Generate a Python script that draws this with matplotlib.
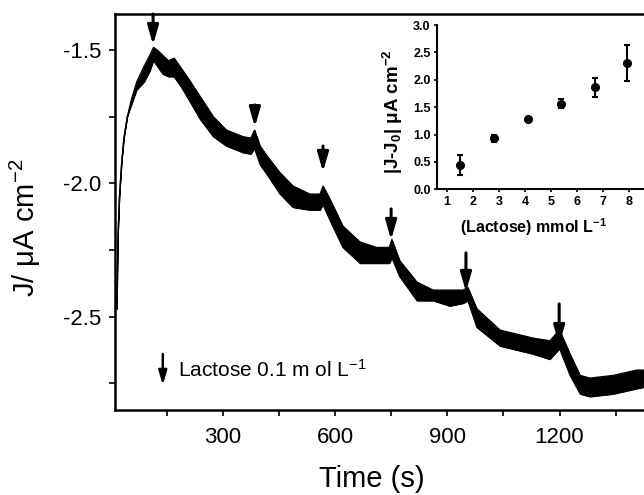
import matplotlib
matplotlib.use("Agg")
import matplotlib.pyplot as plt
from matplotlib.ticker import MultipleLocator

plt.rcParams['font.family'] = ['Liberation Sans', 'DejaVu Sans']
plt.rcParams['axes.unicode_minus'] = False
plt.rcParams['mathtext.fontset'] = 'custom'
plt.rcParams['mathtext.rm'] = 'Liberation Sans'
plt.rcParams['mathtext.bf'] = 'Liberation Sans:bold'
plt.rcParams['mathtext.default'] = 'regular'

# ---- main chronoamperogram (envelope of the oscillating trace)
time_s = [17, 20, 24, 30, 36, 45, 55, 70, 90, 105, 115, 125, 140, 155, 170, 190,
          205, 240, 275, 310, 355, 375, 385, 400, 420, 453, 488, 533, 560, 568,
          587, 621, 667, 711, 745, 752, 773, 819, 862, 907, 942, 955, 979, 1041,
          1129, 1174, 1200, 1228, 1255, 1281, 1343, 1406, 1440]
j_upper = [-2.47, -2.20, -2.05, -1.92, -1.83, -1.75, -1.69, -1.62, -1.56, -1.52,
           -1.49, -1.50, -1.52, -1.54, -1.53, -1.57, -1.60, -1.675, -1.75, -1.80,
           -1.825, -1.83, -1.80, -1.86, -1.90, -1.96, -2.01, -2.04, -2.04, -2.01,
           -2.06, -2.16, -2.22, -2.24, -2.24, -2.21, -2.29, -2.37, -2.40, -2.40,
           -2.40, -2.39, -2.47, -2.55, -2.58, -2.59, -2.55, -2.64, -2.72, -2.73,
           -2.72, -2.70, -2.70]
j_lower = [-2.47, -2.20, -2.05, -1.92, -1.83, -1.75, -1.71, -1.65, -1.62, -1.58,
           -1.54, -1.56, -1.59, -1.60, -1.60, -1.64, -1.675, -1.76, -1.825, -1.86,
           -1.885, -1.89, -1.87, -1.93, -1.97, -2.04, -2.09, -2.10, -2.10, -2.08,
           -2.14, -2.24, -2.30, -2.30, -2.30, -2.28, -2.35, -2.44, -2.44, -2.46,
           -2.45, -2.44, -2.54, -2.61, -2.64, -2.66, -2.62, -2.72, -2.79, -2.80,
           -2.79, -2.77, -2.76]

# lactose additions (arrows): time, arrow tail, arrow tip
add_time = [114, 386, 568, 750, 950, 1199]
add_tail = [-1.365, -1.706, -1.86, -2.096, -2.261, -2.452]
add_tip = [-1.481, -1.789, -1.957, -2.212, -2.407, -2.606]

# ---- inset calibration
lact_mmol = [1.5, 2.8, 4.1, 5.4, 6.7, 7.93]
dj = [0.45, 0.93, 1.28, 1.56, 1.86, 2.31]
dj_err = [0.18, 0.06, 0.03, 0.08, 0.17, 0.33]

fig = plt.figure(figsize=(6.44, 4.95), dpi=100)
ax = fig.add_axes([115/644, 1-410/495, (653.1-115)/644, 396/495])
ax.fill_between(time_s, j_lower, j_upper, color='black', lw=0.6)
ax.plot(time_s, j_upper, color='black', lw=0.8)
ax.plot(time_s, j_lower, color='black', lw=0.8)

for t, a, b in zip(add_time, add_tail, add_tip):
    ax.annotate('', xy=(t, b), xytext=(t, a),
                arrowprops=dict(arrowstyle='-|>,head_width=0.33,head_length=1.15',
                                color='black', lw=2.2, shrinkA=0, shrinkB=0))

ax.set_xlim(12.3, 1450)
ax.set_ylim(-2.85, -1.365)
ax.xaxis.set_minor_locator(MultipleLocator(150))
ax.yaxis.set_minor_locator(MultipleLocator(0.25))
ax.set_xticks([300, 600, 900, 1200])
ax.set_yticks([-1.5, -2.0, -2.5])
ax.set_yticklabels(['-1.5', '-2.0', '-2.5'])
ax.tick_params(which='both', direction='out', length=4, width=1.2,
               top=False, right=False, labelsize=16)
ax.tick_params(axis='y', pad=6)
ax.tick_params(axis='x', pad=8)
for s in ax.spines.values():
    s.set_linewidth(1.8)

ax.set_xlabel('Time (s)', fontsize=21)
ax.xaxis.set_label_coords((371.7-115)/538, (410-465)/396)
ax.set_ylabel('J/ μA cm$^{-2}$', fontsize=21)
ax.yaxis.set_label_coords((43-115)/538, (410-228)/396)

# legend-like annotation
ax.annotate('', xy=(140, -2.757), xytext=(140, -2.64),
            arrowprops=dict(arrowstyle='-|>,head_width=0.25,head_length=0.85',
                            color='black', lw=1.8, shrinkA=0, shrinkB=0))
ax.text(180, -2.70, 'Lactose 0.1 m ol L$^{-1}$', fontsize=15, va='center', ha='left')

# ---- inset
ax2 = fig.add_axes([437/644, 1-189.3/495, (655.4-437)/644, (189.3-25)/495])
ax2.patch.set_alpha(0)
ax2.errorbar(lact_mmol, dj, yerr=dj_err, fmt='o', color='black', ms=5.5,
             elinewidth=1.5, capsize=2.5, capthick=1.5)
ax2.set_xlim(0.628, 9.0)
ax2.set_ylim(0, 3.0)
ax2.set_xticks(range(1, 9))
ax2.set_yticks([0.0, 0.5, 1.0, 1.5, 2.0, 2.5, 3.0])
ax2.set_yticklabels(['0.0', '0.5', '1.0', '1.5', '2.0', '2.5', '3.0'])
ax2.spines['top'].set_visible(False)
ax2.spines['right'].set_visible(False)
for s in ['left', 'bottom']:
    ax2.spines[s].set_linewidth(1.5)
ax2.tick_params(direction='out', length=2.5, width=1.2, labelsize=9, pad=2)
for lab in ax2.get_xticklabels() + ax2.get_yticklabels():
    lab.set_fontweight('bold')
ax2.set_xlabel('(Lactose) mmol L$^{\\mathbf{-1}}$', fontsize=11.5, fontweight='bold')
ax2.xaxis.set_label_coords((534-437)/218.4, (189.3-216)/164.3)
ax2.set_ylabel('|J-J$_{\\mathbf{0}}$| μA cm$^{\\mathbf{-2}}$', fontsize=13.5, fontweight='bold')
ax2.yaxis.set_label_coords((405-437)/218.4, 0.47)

fig.savefig('out.png', dpi=100)
